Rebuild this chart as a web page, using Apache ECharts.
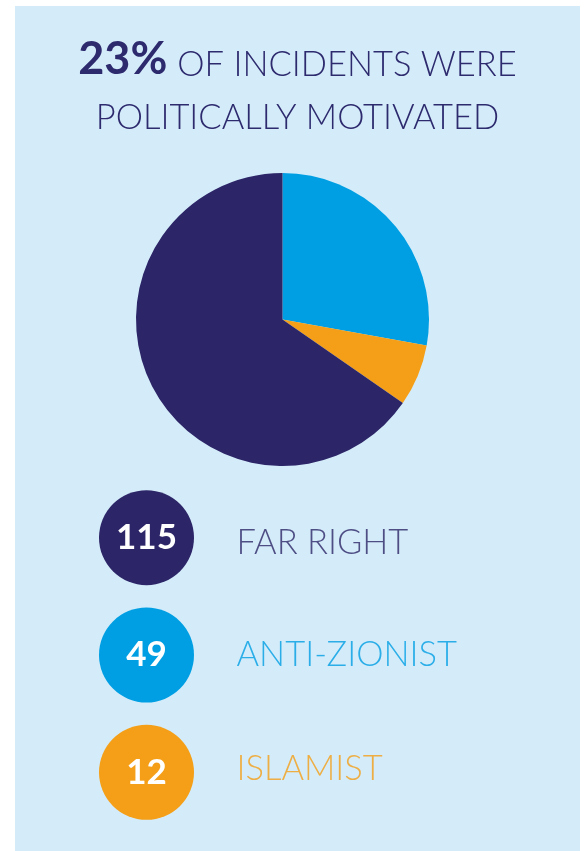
<!DOCTYPE html>
<html>
<head>
<meta charset="utf-8">
<script src="https://cdn.jsdelivr.net/npm/echarts@6/dist/echarts.min.js"></script>
<style>
  html, body { margin: 0; padding: 0; background: #ffffff; }
  #chart { position: absolute; left: 15px; top: 6px; width: 565px; height: 845px; }
</style>
</head>
<body>
<div id="chart"></div>
<script>
// data
const categories = ['FAR RIGHT', 'ANTI-ZIONIST', 'ISLAMIST'];
const counts = [115, 49, 12];
const headlinePct = '23%';
// slice order in the pie (starts at 12 o'clock, clockwise)
const pieOrder = [1, 2, 0];

const colors = ['#2c2567', '#009fe3', '#f49f17'];
const navy = '#2d2a6e';
const font = 'Lato';
// names sit a little off the circle centres in the original
const nameNudge = [5, 0, -3];

const chart = echarts.init(document.getElementById('chart'));

const pieData = pieOrder.map(i => ({
    name: categories[i],
    value: counts[i],
    itemStyle: { color: colors[i] }
}));

const dots = categories.map((c, i) => ({
    value: [0, i, counts[i]],
    itemStyle: { color: colors[i], opacity: 1 }
}));

const names = categories.map((c, i) => ({
    value: [0, i, c],
    label: { color: colors[i], offset: [0, nameNudge[i]] }
}));

chart.setOption({
    backgroundColor: '#d4ecfa',
    animation: false,
    title: {
        left: 'center',
        top: 18,
        text: '{b|' + headlinePct + '} {l|OF INCIDENTS WERE}\n{l|POLITICALLY MOTIVATED}',
        textStyle: {
            rich: {
                b: { fontFamily: font, fontWeight: 'bold', fontSize: 45, color: navy, lineHeight: 53, verticalAlign: 'bottom', padding: [0, 5, 0, 0] },
                l: { fontFamily: font, fontWeight: 300, fontSize: 34.5, color: navy, lineHeight: 53, verticalAlign: 'bottom' }
            }
        }
    },
    grid: { left: 84, width: 95, top: 473, height: 352 },
    xAxis: { type: 'category', data: ['x'], show: false },
    yAxis: { type: 'category', data: categories, inverse: true, show: false },
    series: [
        {
            type: 'pie',
            silent: true,
            center: [267.5, 313.5],
            radius: 146.5,
            startAngle: 90,
            clockwise: true,
            label: { show: false },
            labelLine: { show: false },
            data: pieData
        },
        {
            type: 'scatter',
            silent: true,
            symbol: 'circle',
            symbolSize: 95,
            label: {
                show: true,
                position: 'inside',
                formatter: p => p.value[2],
                fontFamily: font,
                fontWeight: 'bold',
                fontSize: 35,
                color: '#ffffff'
            },
            data: dots
        },
        {
            type: 'scatter',
            silent: true,
            symbolSize: 0,
            label: {
                show: true,
                position: 'right',
                distance: 90,
                formatter: p => p.value[2],
                fontFamily: font,
                fontWeight: 300,
                fontSize: 34.5
            },
            data: names
        }
    ]
});
</script>
</body>
</html>
